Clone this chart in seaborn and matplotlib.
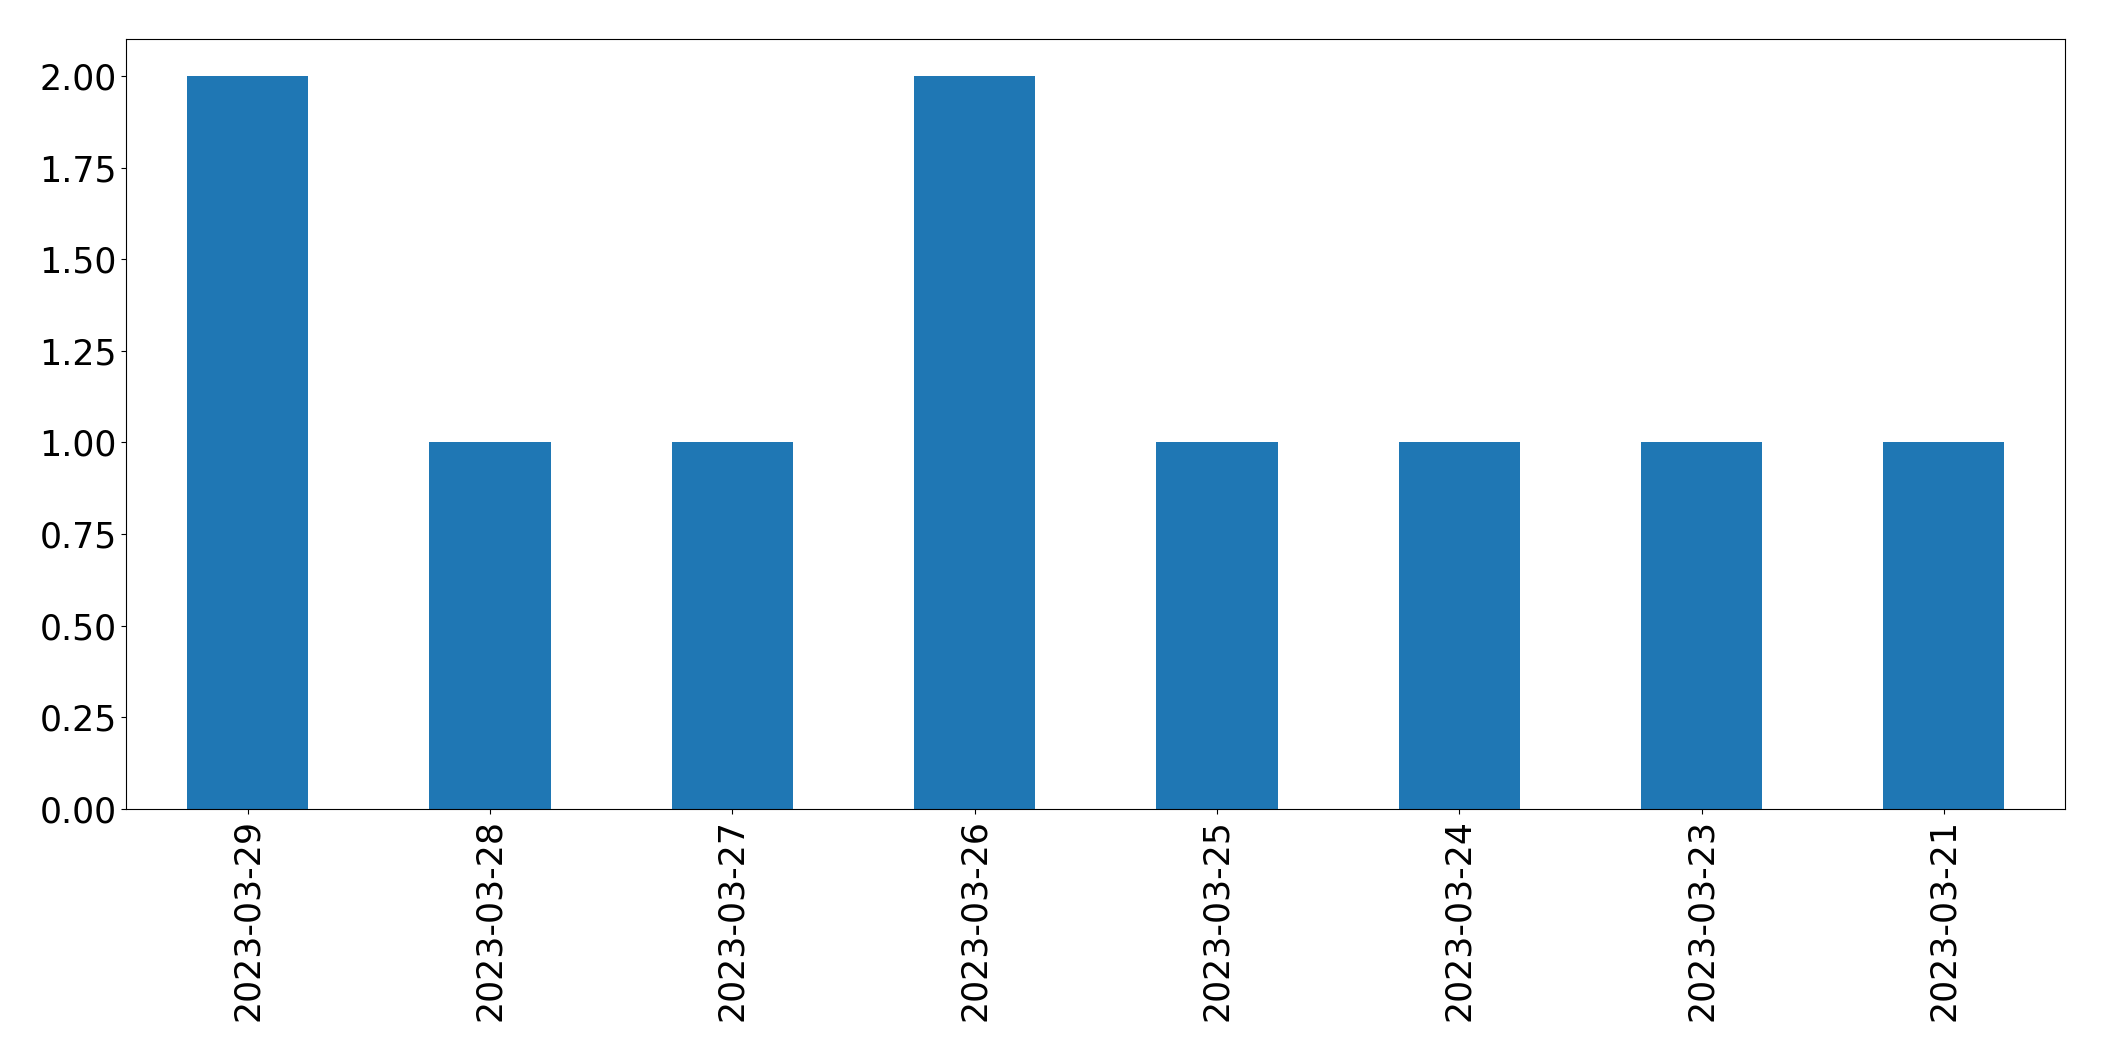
import pandas as pd
import matplotlib.pyplot as plt
import seaborn as sns

# Counts per date, in the order shown
dates = ["2023-03-29", "2023-03-28", "2023-03-27", "2023-03-26",
         "2023-03-25", "2023-03-24", "2023-03-23", "2023-03-21"]
counts = [2, 1, 1, 2, 1, 1, 1, 1]

data = pd.DataFrame({"date": dates, "count": counts})

fig = plt.figure(figsize=(21.04, 10.61), dpi=100)
ax = fig.add_axes([0.0601, 0.2375, 0.9815 - 0.0601, 0.963 - 0.2375])

sns.barplot(data=data, x="date", y="count", order=dates, color="#1f77b4",
            saturation=1, width=0.5, ax=ax)

ax.set_xlim(-0.5, len(dates) - 0.5)
ax.set_ylim(0, 2.1)
ax.set_xlabel("")
ax.set_ylabel("")
ax.tick_params(axis="both", labelsize=25)
ax.tick_params(axis="x", labelrotation=90)

fig.savefig("out.png", dpi=100)
plt.close(fig)
